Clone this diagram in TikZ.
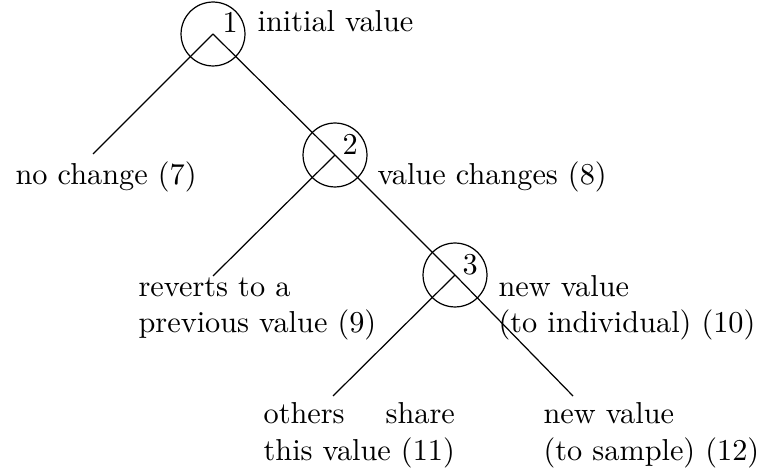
\documentclass[tikz,border=0pt]{standalone}
\usepackage{calc}
\begin{document}
\begin{tikzpicture}[x=0.33pt,y=-0.33pt,
  state/.style={circle,draw,minimum size=21.1pt,inner sep=0pt},
  lbl/.style={anchor=base west,inner sep=0pt},
  edge/.style={line width=0.4pt}]
\useasboundingbox (0,0) rectangle (769,476);
% states
\node[state] (n1) at (213,34) {};
\node[state] (n2) at (335,155) {};
\node[state] (n3) at (455,275) {};
\node[lbl] (l1) at (222,33) {1};
\node[lbl] (l2) at (342,155) {2};
\node[lbl] (l3) at (462,275) {3};
% free ends
\coordinate (e7) at (93,154);
\coordinate (e9) at (213,276);
\coordinate (e11) at (333,396);
\coordinate (e12) at (573,396);
% connectors
\draw[edge] (n1.center) -- (e7);
\draw[edge] (n1.center) -- (n2.center);
\draw[edge] (n2.center) -- (e9);
\draw[edge] (n2.center) -- (n3.center);
\draw[edge] (n3.center) -- (e11);
\draw[edge] (n3.center) -- (e12);
% texts
\node[lbl] (t1) at (257,32) {initial value};
\node[lbl] (t7) at (15,185) {no change (7)};
\node[lbl] (t8) at (377,185) {value changes (8)};
\node[lbl] (t9a) at (138,297) {reverts to a};
\node[lbl] (t9b) at (138,333) {previous value (9)};
\node[lbl] (t10a) at (498,297) {new value};
\node[lbl] (t10b) at (498,333) {(to individual) (10)};
\node[lbl] (t11a) at (263,424) {\makebox[\widthof{this value (11)}][s]{others share}};
\node[lbl] (t11b) at (263,460) {this value (11)};
\node[lbl] (t12a) at (543,424) {new value};
\node[lbl] (t12b) at (543,460) {(to sample) (12)};
\end{tikzpicture}
\end{document}
